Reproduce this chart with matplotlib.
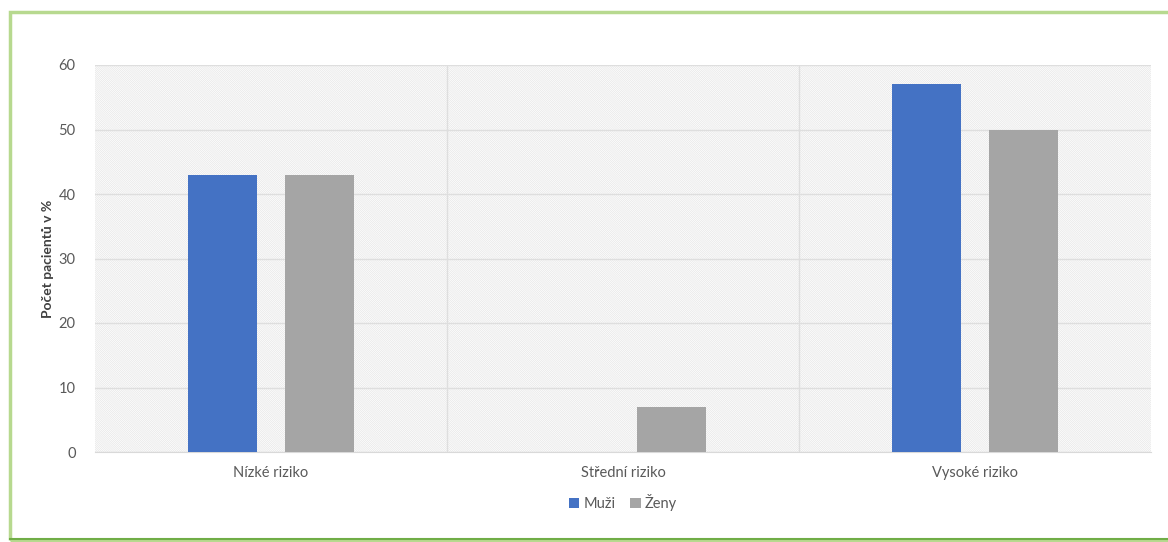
import numpy as np
import matplotlib.pyplot as plt
from matplotlib.patches import Rectangle
import matplotlib as mpl

mpl.rcParams['hatch.linewidth'] = 0.5

categories = ['Nízké riziko', 'Střední riziko', 'Vysoké riziko']
series_names = ['Muži', 'Ženy']
muzi = [43, 0, 57]
zeny = [43, 7, 50]
colors = ['#4472c4', '#a5a5a5']

fig = plt.figure(figsize=(11.68, 5.42), dpi=100)
plt.rcParams['font.family'] = ['Lato', 'DejaVu Sans']

# green frame around the chart
frame = Rectangle((10 / 1168, 2 / 542), 1.2, 528 / 542, transform=fig.transFigure,
                  facecolor='none', edgecolor='#b7d98f', lw=2.5, zorder=-1)
fig.patches.append(frame)
fig.add_artist(plt.Line2D([10 / 1168, 1], [3 / 542, 3 / 542], transform=fig.transFigure,
                          color='#70ad47', lw=1.5))

ax = fig.add_axes([95 / 1168, 90 / 542, 1056 / 1168, 387 / 542])
ax.set_facecolor('white')
# fine diagonal hatched plot background
bg = Rectangle((0, 0), 1, 1, transform=ax.transAxes, facecolor='white',
               edgecolor='#e6e6e6', hatch='\\' * 16, lw=0, zorder=0)
ax.add_patch(bg)

x = np.arange(len(categories))
w = 0.196
off = 0.139
ax.bar(x - off, muzi, w, color=colors[0], label=series_names[0], zorder=3)
ax.bar(x + off, zeny, w, color=colors[1], label=series_names[1], zorder=3)

ax.set_xlim(-0.5, 2.5)
ax.set_ylim(0, 60)
ax.set_yticks(range(0, 61, 10))
ax.set_xticks(x)
ax.set_xticklabels(categories)
ax.grid(axis='y', color='#dedede', lw=1, zorder=1)
for b in [0.5, 1.5]:
    ax.axvline(b, color='#dedede', lw=1, zorder=1)
for s in ['left', 'right', 'top']:
    ax.spines[s].set_visible(False)
ax.spines['bottom'].set_color('#d9d9d9')
ax.tick_params(length=0, colors='#595959', labelsize=10.5)
ax.tick_params(axis='x', pad=10)
ax.tick_params(axis='y', pad=14)
ax.set_ylabel('Počet pacientů v %', fontsize=10, fontweight='bold', color='#404040',
              labelpad=3)

leg = ax.legend(loc='upper center', bbox_to_anchor=(0.5, -0.075), ncol=2, frameon=False,
                fontsize=10.5, handlelength=0.7, handleheight=0.7, handletextpad=0.3,
                columnspacing=1.0)
for t in leg.get_texts():
    t.set_color('#595959')

fig.savefig('out.png', dpi=100)
